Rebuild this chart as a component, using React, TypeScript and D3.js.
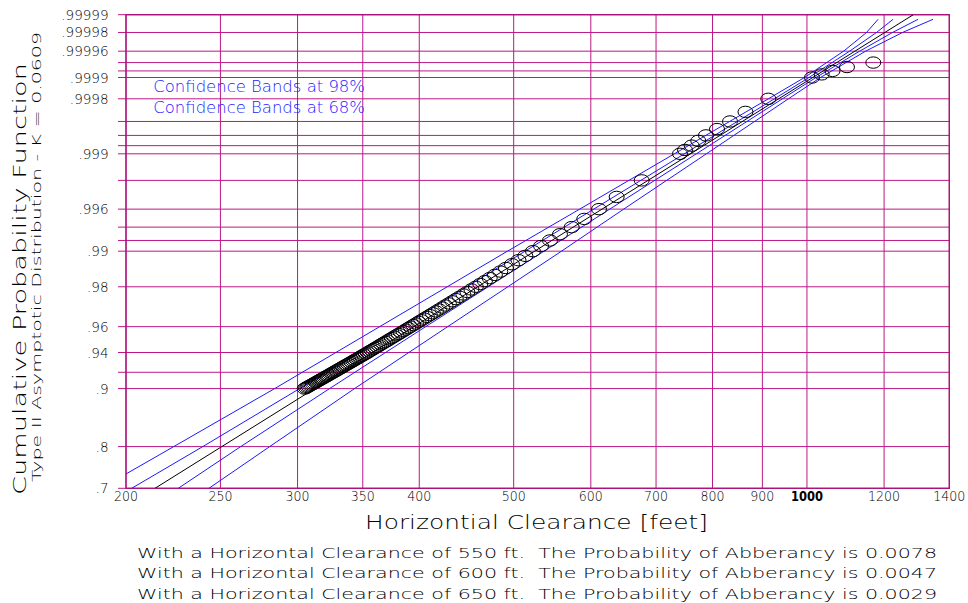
import React from "react";
import * as d3 from "d3";

// ---------------- data ----------------
const xTickValues = [200, 250, 300, 350, 400, 500, 600, 700, 800, 900, 1000, 1200, 1400];
const yGridValues = [0.7, 0.8, 0.9, 0.92, 0.94, 0.96, 0.98, 0.99, 0.992, 0.994, 0.996, 0.998, 0.999, 0.9992, 0.9994, 0.9996, 0.9998, 0.9999, 0.99992, 0.99994, 0.99996, 0.99998, 0.99999];
const yTickValues = [0.7, 0.8, 0.9, 0.94, 0.96, 0.98, 0.99, 0.996, 0.999, 0.9998, 0.9999, 0.99996, 0.99998, 0.99999];
const yTickLabels = [".7", ".8", ".9", ".94", ".96", ".98", ".99", ".996", ".999", ".9998", ".9999", ".99996", ".99998", ".99999"];

// exceedance probability of each plotted point, in units of 1e-5
const exceedance = [
  10000, 9900, 9800, 9700, 9600, 9500, 9400, 9300, 9200, 9100,
  9000, 8900, 8800, 8700, 8600, 8500, 8400, 8300, 8200, 8100,
  8000, 7900, 7800, 7700, 7600, 7500, 7400, 7300, 7200, 7100,
  7000, 6900, 6800, 6700, 6600, 6500, 6400, 6300, 6200, 6100,
  6000, 5900, 5800, 5700, 5600, 5500, 5400, 5300, 5200, 5100,
  5000, 4900, 4800, 4700, 4600, 4500, 4400, 4300, 4200, 4100,
  4000, 3900, 3800, 3700, 3600, 3500, 3400, 3300, 3200, 3100,
  3000, 2900, 2800, 2700, 2600, 2500, 2400, 2300, 2200, 2100,
  2000, 1900, 1800, 1700, 1600, 1500, 1400, 1300, 1200, 1100,
  1000, 900, 800, 700, 600, 500, 400, 300, 200, 100,
  90, 80, 70, 60, 50, 40, 30, 20, 10,
  9, 8, 7, 6,
];
// horizontal clearance (feet) of each plotted point
const clearance = [
  305.1, 306.1, 307.1, 308.0, 309.1, 310.1, 311.1, 312.1, 313.2, 314.2,
  315.3, 316.3, 317.4, 318.5, 319.7, 320.8, 321.9, 323.1, 324.2, 325.4,
  326.6, 327.8, 329.0, 330.3, 331.5, 332.8, 334.0, 335.3, 336.7, 338.0,
  339.4, 340.8, 342.2, 343.5, 345.0, 346.4, 347.9, 349.4, 351.0, 352.5,
  354.1, 355.6, 357.3, 358.9, 360.5, 362.2, 363.9, 365.7, 367.4, 369.3,
  371.1, 373.0, 374.9, 376.9, 379.0, 381.0, 383.1, 385.3, 387.4, 389.7,
  392.0, 394.4, 396.9, 399.3, 401.9, 404.6, 407.3, 410.1, 413.1, 416.0,
  419.1, 422.3, 425.5, 429.0, 432.5, 436.1, 440.0, 444.0, 448.2, 452.5,
  457.2, 462.0, 467.1, 472.5, 478.3, 484.4, 490.9, 498.0, 505.7, 514.0,
  523.3, 533.4, 544.8, 557.8, 573.5, 590.8, 611.7, 637.8, 676.7, 740.8,
  749.6, 761.5, 773.5, 787.7, 808.5, 833.7, 864.8, 912.7, 1012.0,
  1035.5, 1062.3, 1099.3, 1169.8,
];

// fitted line
const fitProb = [0.7, 0.99999];
const fitClearance = [214.2, 1285.8];

// confidence bands
const bandProb = [0.7, 0.8, 0.9, 0.96, 0.99, 0.996, 0.999, 0.9998, 0.9999, 0.99996, 0.99998, 0.999988];
const upper98 = [188.5, 223.9, 284.2, 364.3, 492.7, 584.4, 731.0, 912.9, 994.2, 1090.5, 1151.2, 1183.2];
const upper68 = [202.7, 239.8, 301.5, 383.7, 513.6, 604.1, 748.5, 926.0, 1004.9, 1106.1, 1178.7, 1225.9];
const lower68 = [226.3, 262.3, 323.6, 406.1, 537.1, 627.4, 770.0, 943.6, 1021.6, 1132.6, 1224.1, 1300.5];
const lower98 = [243.3, 280.9, 343.3, 427.8, 559.8, 648.5, 788.5, 957.1, 1032.5, 1148.7, 1253.4, 1347.4];

const legendLabels = ["Confidence Bands at 98%", "Confidence Bands at 68%"];
const footerLines = [
  "With a Horizontal Clearance of 550 ft.  The Probability of Abberancy is 0.0078",
  "With a Horizontal Clearance of 600 ft.  The Probability of Abberancy is 0.0047",
  "With a Horizontal Clearance of 650 ft.  The Probability of Abberancy is 0.0029",
];

// ---------------- layout ----------------
const W = 968;
const H = 603;
const L = 126;
const R = 949.3;
const T = 14.7;
const B = 488.3;

const GRID = "#bc1887";
const BLUE = "#1a1aff";
const INK = "#000";
const FONT = "'DejaVu Sans', sans-serif";

// reduced variate of the probability axis
const tf = (F: number) => Math.log(2.75 - Math.log(-Math.log(F)));

export default function App() {
  const x = d3.scaleLog().domain([200, 1400]).range([L, R]);
  const yT = d3.scaleLinear().domain([tf(0.7), tf(0.99999)]).range([B, T]);
  const y = (F: number) => yT(tf(F));

  const line = d3
    .line<[number, number]>()
    .x((d) => x(d[0]))
    .y((d) => y(d[1]));

  const mk = (xs: number[], ps: number[]) => line(xs.map((v, i) => [v, ps[i]] as [number, number])) || "";

  const bands = [upper98, upper68, lower68, lower98];

  return (
    <svg
      width={W}
      height={H}
      viewBox={`0 0 ${W} ${H}`}
      style={{ position: "absolute", left: 0, top: 0, background: "#fff" }}
      fontFamily={FONT}
      fontWeight={200}
    >
      <defs>
        <clipPath id="plot">
          <rect x={L} y={T} width={R - L} height={B - T} />
        </clipPath>
      </defs>
      <rect x={0} y={0} width={W} height={H} fill="#fff" />

      {/* horizontal grid */}
      {yGridValues.map((F) => (
        <line key={"h" + F} x1={118} x2={R} y1={y(F)} y2={y(F)} stroke={GRID} strokeWidth={1} />
      ))}
      {/* vertical grid */}
      {xTickValues.map((v) => (
        <line key={"v" + v} x1={x(v)} x2={x(v)} y1={T} y2={B} stroke={GRID} strokeWidth={1} />
      ))}
      <rect x={L} y={T} width={R - L} height={B - T} fill="none" stroke="#a8107a" strokeWidth={1.3} />

      {/* y tick labels */}
      {yTickValues.map((F, i) => (
        <text key={"yt" + F} x={108.5} y={y(F) + 5} textAnchor="end" fontSize={13.5} fill={INK}>
          {yTickLabels[i]}
        </text>
      ))}
      {/* x tick labels */}
      {xTickValues.map((v) => (
        <text
          key={"xt" + v}
          x={x(v)}
          y={500.7}
          textAnchor="middle"
          fontSize={13.5}
          fill={INK}
          fontWeight={v === 1000 ? 700 : 200}
          textLength={v >= 1000 ? 32 : 24}
          lengthAdjust="spacingAndGlyphs"
        >
          {v}
        </text>
      ))}

      <g clipPath="url(#plot)">
        {bands.map((b, i) => (
          <path key={"b" + i} d={mk(b, bandProb)} fill="none" stroke={BLUE} strokeWidth={1} />
        ))}
        <path d={mk(fitClearance, fitProb)} fill="none" stroke="#000" strokeWidth={1} />
        {clearance.map((v, i) => (
          <ellipse
            key={"c" + i}
            cx={x(v)}
            cy={y(1 - exceedance[i] * 1e-5)}
            rx={7.5}
            ry={5.7}
            fill="none"
            stroke="#000"
            strokeWidth={1}
          />
        ))}
      </g>

      {/* legend */}
      {legendLabels.map((s, i) => (
        <text key={"lg" + i} x={153.3} y={91.5 + i * 21} fontSize={15} fill={BLUE} textLength={211.7} lengthAdjust="spacingAndGlyphs">
          {s}
        </text>
      ))}

      {/* axis titles */}
      <text x={365} y={529.3} fontSize={19.5} fill={INK} textLength={343} lengthAdjust="spacingAndGlyphs">
        Horizontial Clearance [feet]
      </text>
      <text
        transform="translate(25.5,279) rotate(-90)"
        textAnchor="middle"
        fontSize={18}
        fill={INK}
        textLength={432}
        lengthAdjust="spacingAndGlyphs"
      >
        Cumulative Probability Function
      </text>
      <text
        transform="translate(40.5,257) rotate(-90)"
        textAnchor="middle"
        fontSize={12}
        fill={INK}
        textLength={450}
        lengthAdjust="spacingAndGlyphs"
      >
        Type II Asymptotic Distribution - K = 0.0609
      </text>

      {/* footer */}
      {footerLines.map((s, i) => (
        <text key={"ft" + i} x={137} y={557.5 + i * 20.5} fontSize={14} fill={INK} textLength={800} lengthAdjust="spacingAndGlyphs" style={{ whiteSpace: "pre" }}>
          {s}
        </text>
      ))}
    </svg>
  );
}
